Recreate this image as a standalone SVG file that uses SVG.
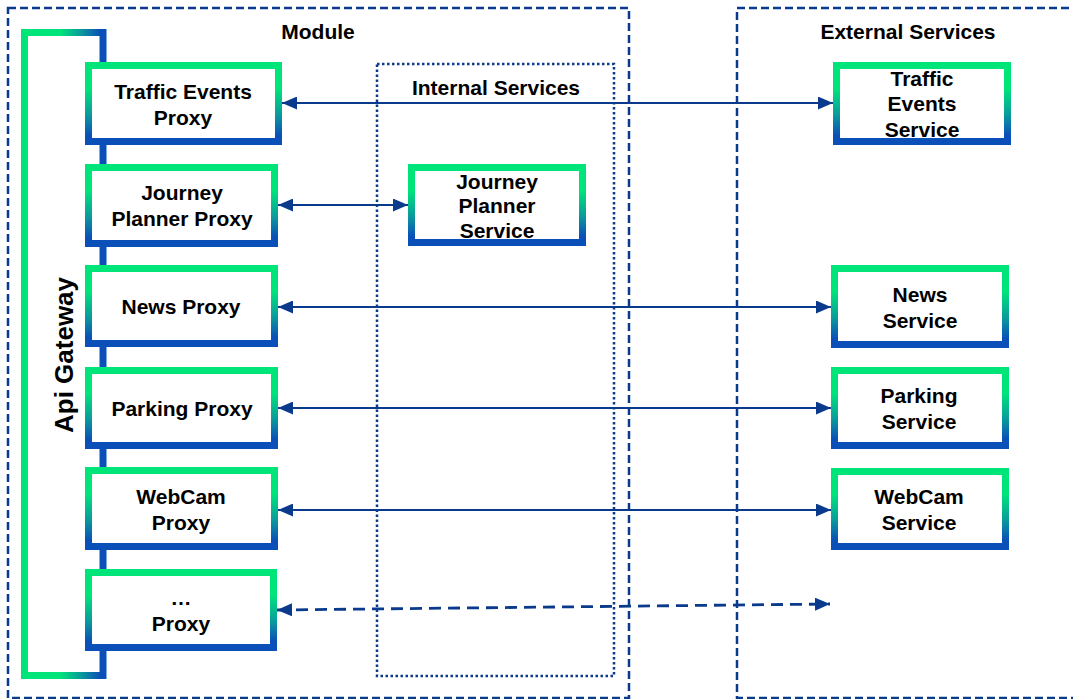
<svg xmlns="http://www.w3.org/2000/svg" width="1073" height="699" viewBox="0 0 1073 699">
  <defs>
    <linearGradient id="boxGrad" x1="0" y1="0" x2="0" y2="1">
      <stop offset="0" stop-color="#00e57a"/>
      <stop offset="0.3" stop-color="#00e57a"/>
      <stop offset="0.65" stop-color="#0a9a9c"/>
      <stop offset="0.92" stop-color="#0a50b8"/>
      <stop offset="1" stop-color="#0a50b8"/>
    </linearGradient>
    <linearGradient id="gwGrad" gradientUnits="userSpaceOnUse" x1="21" y1="0" x2="107" y2="0">
      <stop offset="0" stop-color="#00e57a"/>
      <stop offset="0.45" stop-color="#00e57a"/>
      <stop offset="0.7" stop-color="#0a9a9c"/>
      <stop offset="0.92" stop-color="#0a50b8"/>
      <stop offset="1" stop-color="#0a50b8"/>
    </linearGradient>
    <marker id="arr" viewBox="0 0 15 13" refX="15" refY="6.5" markerWidth="15" markerHeight="13" markerUnits="userSpaceOnUse" orient="auto-start-reverse">
      <path d="M0,0 L15,6.5 L0,13 z" fill="#0a3a8c"/>
    </marker>
  </defs>
  <style>
    .box { fill: #ffffff; stroke: url(#boxGrad); stroke-width: 7; }
    .lbl { font-family: "Liberation Sans", Arial, sans-serif; font-weight: bold; font-size: 21px; fill: #000000; text-anchor: middle; }
    .frame { fill: none; stroke: #0a3a8c; stroke-width: 2.5; stroke-dasharray: 8 4; }
    .dotted { fill: none; stroke: #0a3a8c; stroke-width: 2.5; stroke-dasharray: 2.5 2.5; }
    .conn { stroke: #0a3a8c; stroke-width: 2.2; fill: none; marker-start: url(#arr); marker-end: url(#arr); }
    .dash { stroke: #0a3a8c; stroke-width: 2.8; fill: none; stroke-dasharray: 12 7; marker-start: url(#arr); marker-end: url(#arr); }
  </style>
  <rect width="1073" height="699" fill="#ffffff"/>

  <g id="module">
    <rect class="frame" x="8" y="8" width="621" height="690"/>
    <text class="lbl" x="318" y="39">Module</text>
  </g>
  <g id="external-services">
    <rect class="frame" x="737" y="8" width="360" height="690"/>
    <text class="lbl" x="908" y="39">External Services</text>
  </g>
  <g id="internal-services">
    <rect class="dotted" x="377" y="64" width="237" height="612"/>
    <text class="lbl" x="496" y="95">Internal Services</text>
  </g>

  <g id="api-gateway">
    <rect x="24.5" y="32.5" width="78.5" height="643" fill="none" stroke="url(#gwGrad)" stroke-width="7"/>
    <text class="lbl" style="font-size:26px" transform="translate(73,355) rotate(-90)" x="0" y="0">Api Gateway</text>
  </g>

  <g id="connectors">
    <line class="conn" x1="282" y1="103" x2="833" y2="103"/>
    <line class="conn" x1="278" y1="205" x2="408" y2="205"/>
    <line class="conn" x1="278" y1="307" x2="831" y2="307"/>
    <line class="conn" x1="278" y1="408" x2="831" y2="408"/>
    <line class="conn" x1="278" y1="510" x2="831" y2="510"/>
    <line class="dash" x1="277" y1="610" x2="830" y2="604"/>
  </g>

  <g id="traffic-events-proxy">
    <rect class="box" x="88.5" y="65.5" width="190" height="76"/>
    <text class="lbl" x="183" y="99">Traffic Events</text>
    <text class="lbl" x="183" y="125">Proxy</text>
  </g>
  <g id="journey-planner-proxy">
    <rect class="box" x="88.5" y="167.5" width="186" height="76"/>
    <text class="lbl" x="182" y="200">Journey</text>
    <text class="lbl" x="182" y="226">Planner Proxy</text>
  </g>
  <g id="news-proxy">
    <rect class="box" x="88.5" y="268.5" width="186" height="75"/>
    <text class="lbl" x="181" y="314">News Proxy</text>
  </g>
  <g id="parking-proxy">
    <rect class="box" x="88.5" y="370.5" width="186" height="75"/>
    <text class="lbl" x="182" y="416">Parking Proxy</text>
  </g>
  <g id="webcam-proxy">
    <rect class="box" x="88.5" y="470.5" width="186" height="76"/>
    <text class="lbl" x="181" y="504">WebCam</text>
    <text class="lbl" x="181" y="530">Proxy</text>
  </g>
  <g id="other-proxy">
    <rect class="box" x="88.5" y="572.5" width="185" height="75"/>
    <text class="lbl" x="181" y="605">…</text>
    <text class="lbl" x="181" y="631">Proxy</text>
  </g>

  <g id="journey-planner-service">
    <rect class="box" x="411.5" y="167.5" width="171" height="75"/>
    <text class="lbl" x="497" y="189">Journey</text>
    <text class="lbl" x="497" y="213">Planner</text>
    <text class="lbl" x="497" y="238">Service</text>
  </g>

  <g id="traffic-events-service">
    <rect class="box" x="836.5" y="65.5" width="171" height="76"/>
    <text class="lbl" x="922" y="86">Traffic</text>
    <text class="lbl" x="922" y="111">Events</text>
    <text class="lbl" x="922" y="137">Service</text>
  </g>
  <g id="news-service">
    <rect class="box" x="834.5" y="268.5" width="171" height="76"/>
    <text class="lbl" x="920" y="302">News</text>
    <text class="lbl" x="920" y="328">Service</text>
  </g>
  <g id="parking-service">
    <rect class="box" x="834.5" y="370.5" width="171" height="75"/>
    <text class="lbl" x="919" y="403">Parking</text>
    <text class="lbl" x="919" y="429">Service</text>
  </g>
  <g id="webcam-service">
    <rect class="box" x="834.5" y="471.5" width="171" height="75"/>
    <text class="lbl" x="919" y="504">WebCam</text>
    <text class="lbl" x="919" y="530">Service</text>
  </g>
</svg>
